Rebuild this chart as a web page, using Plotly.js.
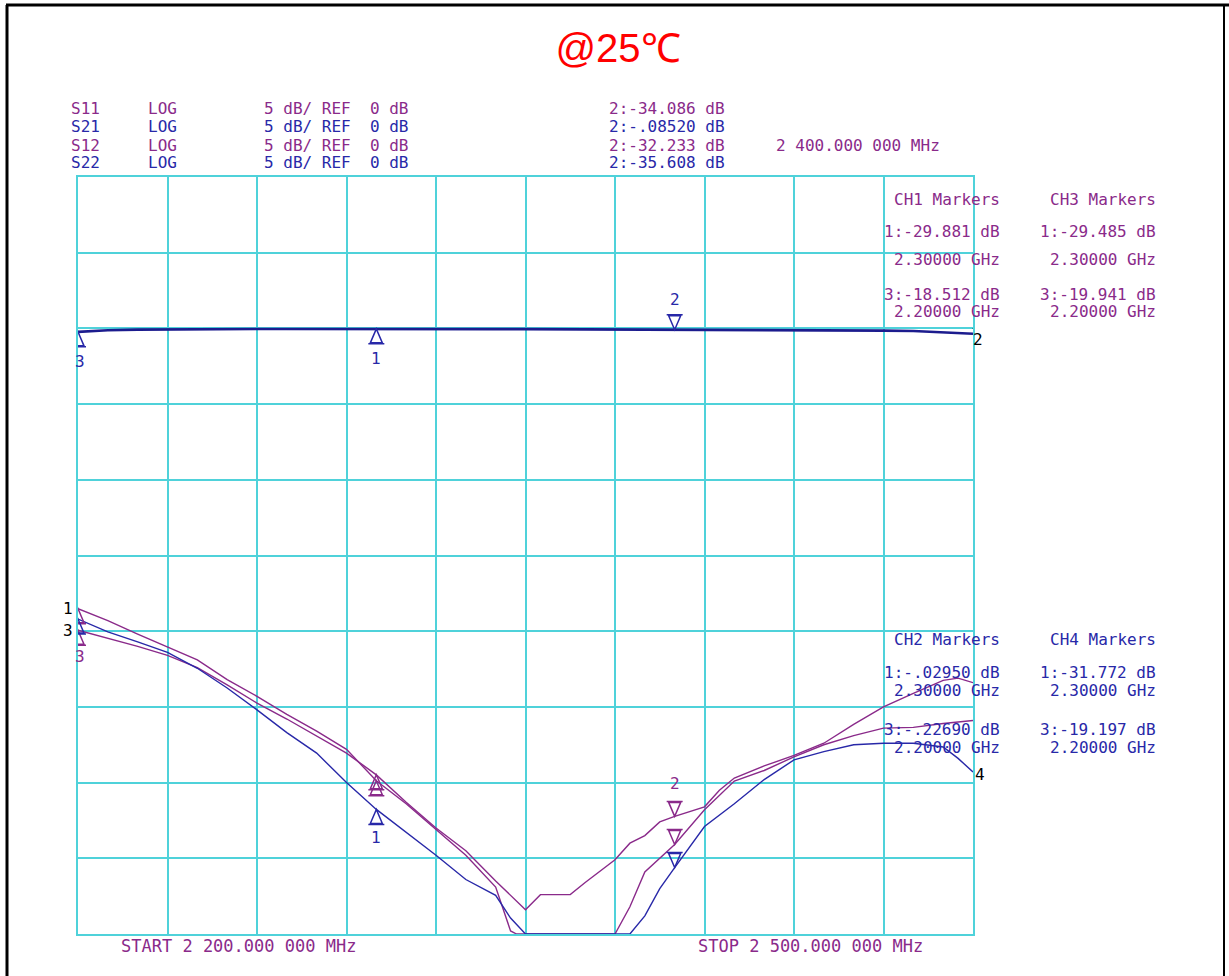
<!DOCTYPE html>
<html><head><meta charset="utf-8">
<script src="https://cdn.plot.ly/plotly-3.0.1.min.js"></script>
<style>html,body{margin:0;padding:0;background:#fff}#chart{width:1229px;height:976px}</style>
</head><body><div id="chart"></div>
<script>
// ---- data (GHz, dB) ----
const freqS11 = [2.20,2.21,2.22,2.23,2.24,2.25,2.26,2.27,2.28,2.29,2.30,2.31,2.32,2.33,2.34,2.345,2.347,2.35,2.36,2.37,2.38,2.385,2.39,2.40,2.41,2.42,2.43,2.44,2.45,2.46,2.47,2.48,2.49,2.50];
const dbS11   = [-18.51,-19.3,-20.2,-21.05,-21.9,-23.2,-24.3,-25.5,-26.6,-27.8,-29.88,-31.4,-33.1,-34.8,-36.9,-39.8,-40,-40,-40,-40,-40,-38.2,-35.9,-34.09,-31.8,-29.9,-29.2,-28.3,-27.5,-26.9,-26.4,-26.35,-26.1,-25.9];

const freqS21 = [2.20,2.21,2.22,2.23,2.24,2.25,2.26,2.27,2.28,2.29,2.30,2.31,2.32,2.33,2.34,2.35,2.36,2.37,2.38,2.39,2.40,2.41,2.42,2.43,2.44,2.45,2.46,2.47,2.48,2.49,2.50];
const dbS21   = [-0.227,-0.12,-0.08,-0.06,-0.05,-0.04,-0.04,-0.035,-0.03,-0.03,-0.0295,-0.03,-0.035,-0.04,-0.045,-0.05,-0.055,-0.06,-0.07,-0.078,-0.0852,-0.09,-0.1,-0.11,-0.12,-0.13,-0.14,-0.15,-0.17,-0.25,-0.35];

const freqS12 = [2.20,2.21,2.22,2.23,2.24,2.25,2.26,2.27,2.28,2.29,2.30,2.31,2.32,2.33,2.34,2.35,2.355,2.365,2.37,2.38,2.385,2.39,2.395,2.40,2.41,2.415,2.42,2.43,2.44,2.45,2.46,2.47,2.48,2.49,2.495,2.50];
const dbS12   = [-19.94,-20.45,-21.0,-21.6,-22.4,-23.55,-24.75,-25.8,-26.9,-28.05,-29.49,-31.3,-33.0,-34.5,-36.5,-38.4,-37.4,-37.4,-36.6,-35.1,-34.0,-33.5,-32.6,-32.23,-31.6,-30.5,-29.7,-28.9,-28.2,-27.4,-26.15,-25.0,-24.1,-23.25,-23.1,-23.4];

const freqS22 = [2.20,2.21,2.22,2.23,2.24,2.25,2.26,2.27,2.28,2.29,2.30,2.31,2.32,2.33,2.335,2.34,2.345,2.35,2.36,2.37,2.38,2.385,2.39,2.395,2.40,2.41,2.42,2.43,2.44,2.45,2.46,2.47,2.48,2.49,2.495,2.50];
const dbS22   = [-19.2,-20.05,-20.7,-21.4,-22.45,-23.75,-25.2,-26.7,-28.05,-30.0,-31.77,-33.3,-34.8,-36.4,-36.95,-37.45,-38.95,-40,-40,-40,-40,-40,-38.8,-37.0,-35.61,-32.9,-31.4,-29.8,-28.5,-27.95,-27.5,-27.4,-27.4,-27.65,-28.4,-29.3];

// markers 1, 2, 3
const markerNums  = ['1','2','3'];
const markerFreqs = [2.30, 2.40, 2.20];
const markerS11 = [-29.881, -34.086, -18.512];
const markerS21 = [-0.0295, -0.0852, -0.2269];
const markerS12 = [-29.485, -32.233, -19.941];
const markerS22 = [-31.772, -35.608, -19.197];

const traceNames = ['S11','S21','S12','S22'];
const channelNames = ['CH1','CH2','CH3','CH4'];
const formatLabel = 'LOG';
const scaleLabel = '5 dB/ REF  0 dB';
const markerFreqLabel = '2 400.000 000 MHz';
const startLabel = 'START 2 200.000 000 MHz';
const stopLabel  = 'STOP 2 500.000 000 MHz';
const titleText = '@25℃';

// ---- style ----
const PURPLE = '#8a2a8a', BLUE = '#2828a8', GRID = '#4fd2da';
const MONO = 'DejaVu Sans Mono, monospace';
const L = 78, R = 973, T = 177, B = 934;
const px = p => (p - L) / (R - L);
const py = p => (B - p) / (B - T);

const series = [
  {name:traceNames[0], f:freqS11, v:dbS11, m:markerS11, c:PURPLE},
  {name:traceNames[1], f:freqS21, v:dbS21, m:markerS21, c:BLUE},
  {name:traceNames[2], f:freqS12, v:dbS12, m:markerS12, c:PURPLE},
  {name:traceNames[3], f:freqS22, v:dbS22, m:markerS22, c:BLUE}
];

const data = series.map(s => ({
  x: s.f, y: s.v, type: 'scatter', mode: 'lines', name: s.name,
  line: {color: s.name === 'S21' ? '#1c1c8e' : s.c, width: s.name === 'S21' ? 2.6 : 1.4}, hoverinfo: 'x+y'
}));

const fmt = v => Math.abs(v) < 1 ? v.toFixed(5).replace('0.', '.') : v.toFixed(3);

const ann = [];
const text = (x, y, t, color, size, anchor) => ann.push({
  xref:'paper', yref:'paper', x:px(x), y:py(y), text:t, showarrow:false,
  xanchor: anchor || 'left', yanchor:'middle', borderpad:0,
  font:{family:MONO, size:size || 16, color:color}
});

// header
const headY = [109, 127, 145, 162];
series.forEach((s, i) => {
  text(70, headY[i], s.name, s.c, 16);
  text(147, headY[i], formatLabel, s.c, 16);
  text(263, headY[i], scaleLabel, s.c, 16);
  text(608, headY[i], '2:' + fmt(s.m[1]) + ' dB', s.c, 16);
});
text(775, 145, markerFreqLabel, PURPLE, 16);

// marker readout blocks
const blocks = [
  {s:series[0], ch:channelNames[0], xr:1001, y0:199},
  {s:series[2], ch:channelNames[2], xr:1157, y0:199},
  {s:series[1], ch:channelNames[1], xr:1001, y0:639},
  {s:series[3], ch:channelNames[3], xr:1157, y0:639}
];
blocks.forEach(b => {
  const top = b.y0 < 400;
  text(b.xr, b.y0, b.ch + ' Markers', b.s.c, 16, 'right');
  text(b.xr, b.y0 + (top ? 32 : 33), '1:' + fmt(b.s.m[0]) + ' dB', b.s.c, 16, 'right');
  text(b.xr, b.y0 + (top ? 61 : 51), markerFreqs[0].toFixed(5) + ' GHz', b.s.c, 16, 'right');
  text(b.xr, b.y0 + (top ? 95 : 90), '3:' + fmt(b.s.m[2]) + ' dB', b.s.c, 16, 'right');
  text(b.xr, b.y0 + (top ? 112 : 108), markerFreqs[2].toFixed(5) + ' GHz', b.s.c, 16, 'right');
});

text(120, 946, startLabel, PURPLE, 17);
text(697, 946, stopLabel, PURPLE, 17);

// marker triangles
const shapes = [];
series.forEach(s => {
  markerFreqs.forEach((f, k) => {
    const down = markerNums[k] === '2';
    shapes.push({
      type:'path', xref:'x', yref:'y', xsizemode:'pixel', ysizemode:'pixel',
      xanchor:f, yanchor:s.m[k],
      path: down ? 'M0,0 L-6,14 L6,14 Z M-8,15 L8,15' : 'M0,0 L-6,-14 L6,-14 Z M-8,-15 L8,-15',
      line:{color:s.c, width:1.5}, layer:'above'
    });
  });
});

// marker number labels
const dataAnn = (x, y, t, color, yshift, xanchor, xshift) => ann.push({
  xref:'x', yref:'y', x:x, y:y, text:t, showarrow:false,
  yshift:yshift, xshift:xshift || 0, xanchor:xanchor || 'center', yanchor:'middle',
  font:{family:MONO, size:16, color:color}
});
// top trace (S21)
dataAnn(markerFreqs[0], markerS21[0], markerNums[0], BLUE, -30);
dataAnn(markerFreqs[1], markerS21[1], markerNums[1], BLUE, 30);
dataAnn(markerFreqs[2], markerS21[2], markerNums[2], BLUE, -30, 'center', 2);
// lower traces
const lowMin = k => Math.min(markerS11[k], markerS12[k], markerS22[k]);
const lowMax = k => Math.max(markerS11[k], markerS12[k], markerS22[k]);
dataAnn(markerFreqs[0], lowMin(0), markerNums[0], BLUE, -28);
dataAnn(markerFreqs[1], lowMax(1), markerNums[1], PURPLE, 33);
dataAnn(markerFreqs[2], lowMin(2), markerNums[2], PURPLE, -26, 'center', 2);

// channel labels at trace ends
dataAnn(freqS11[0], dbS11[0], '1', '#000', 0, 'right', -3);
dataAnn(freqS12[0], dbS12[0], '3', '#000', 0, 'right', -3);
dataAnn(freqS21[freqS21.length-1], dbS21[dbS21.length-1], '2', '#000', -6, 'left', -2);
dataAnn(freqS22[freqS22.length-1], dbS22[dbS22.length-1], '4', '#000', -2, 'left', 0);

// reference-level pointers
shapes.push({type:'path', xref:'x', yref:'y', xsizemode:'pixel', ysizemode:'pixel',
  xanchor:2.2, yanchor:0, path:'M-10,-3 L-10,3 L-2,0 Z', line:{color:'#000', width:1.2}});
shapes.push({type:'path', xref:'x', yref:'y', xsizemode:'pixel', ysizemode:'pixel',
  xanchor:2.5, yanchor:0, path:'M1,0 L10,3 L10,-3 Z', line:{color:'#000', width:1.2}});

// outer frame
shapes.push({type:'line', xref:'paper', yref:'paper', x0:px(7), x1:px(7), y0:py(5), y1:py(990), line:{color:'#000', width:3}});
shapes.push({type:'line', xref:'paper', yref:'paper', x0:px(6), x1:px(1229), y0:py(5), y1:py(5), line:{color:'#000', width:3}});
shapes.push({type:'line', xref:'paper', yref:'paper', x0:px(1224), x1:px(1224), y0:py(5), y1:py(990), line:{color:'#000', width:2}});

const axisBase = {
  showgrid:true, gridcolor:GRID, gridwidth:2, zeroline:false,
  showticklabels:false, ticks:'', showline:true, linecolor:GRID, linewidth:2, mirror:true, fixedrange:true
};

const layout = {
  width:1229, height:976,
  margin:{l:L, r:1229-R, t:T, b:976-B, pad:0},
  paper_bgcolor:'#fff', plot_bgcolor:'#fff', showlegend:false,
  title:{text:titleText, font:{family:'Liberation Sans, Arial, sans-serif', size:40, color:'#ff0000'},
         x:618/1229, xanchor:'center', y:1-48/976, yanchor:'middle'},
  xaxis:Object.assign({}, axisBase, {range:[2.2, 2.5], tick0:2.2, dtick:0.03}),
  yaxis:Object.assign({}, axisBase, {range:[-40, 10], tick0:-40, dtick:5}),
  annotations:ann, shapes:shapes
};

Plotly.newPlot('chart', data, layout, {displayModeBar:false, staticPlot:true});
</script>
</body></html>
